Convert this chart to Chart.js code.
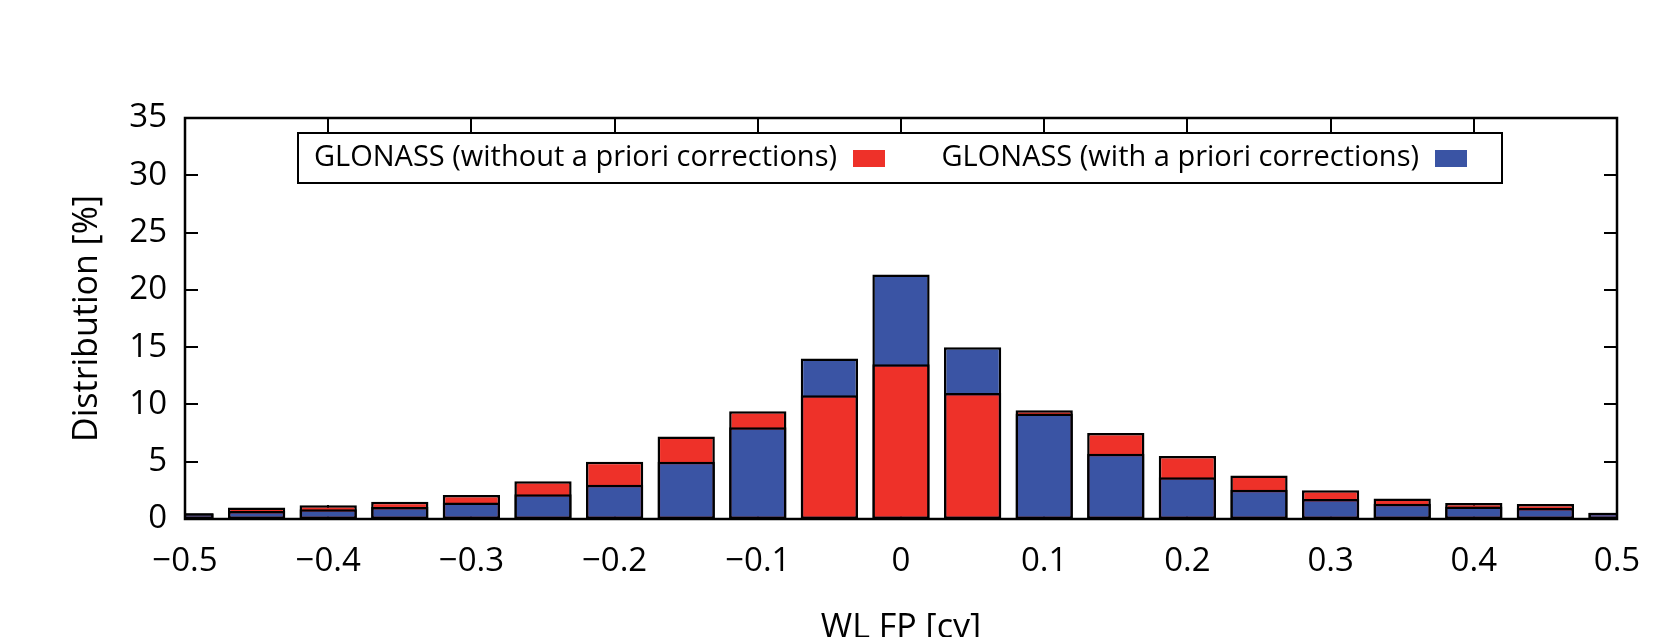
<!DOCTYPE html>
<html>
<head>
<meta charset="utf-8">
<script src="https://cdn.jsdelivr.net/npm/chart.js@4.4.1/dist/chart.umd.min.js"></script>
<style>
  html, body { margin: 0; padding: 0; background: #fff; }
  #wrap { width: 1666px; height: 637px; }
</style>
</head>
<body>
<div id="wrap"><canvas id="chart" width="1666" height="637"></canvas></div>
<script>
// bin centres of the WL fractional part histogram [cy]
const bins = [-0.5, -0.45, -0.4, -0.35, -0.3, -0.25, -0.2, -0.15, -0.1, -0.05, 0,
              0.05, 0.1, 0.15, 0.2, 0.25, 0.3, 0.35, 0.4, 0.45, 0.5];
// distribution [%]
const withoutCorr = [0.5, 1.0, 1.2, 1.5, 2.1, 3.3, 5.0, 7.2, 9.4, 10.8, 13.5,
                     11.0, 9.5, 7.5, 5.5, 3.8, 2.5, 1.8, 1.4, 1.3, 0.55];
const withCorr    = [0.5, 0.7, 0.85, 1.05, 1.45, 2.15, 3.0, 5.0, 8.0, 14.0, 21.35,
                     15.0, 9.2, 5.7, 3.65, 2.55, 1.75, 1.33, 1.1, 0.95, 0.55];
const seriesNames = ['GLONASS (without a priori corrections)', 'GLONASS (with a priori corrections)'];
const seriesColors = ['#ee3129', '#3a54a4'];
const xTickLabels = ['\u22120.5', '\u22120.4', '\u22120.3', '\u22120.2', '\u22120.1', '0',
                     '0.1', '0.2', '0.3', '0.4', '0.5'];
const yTickLabels = ['0', '5', '10', '15', '20', '25', '30', '35'];

const FONT = "'Open Sans', sans-serif";

// the taller bar of each bin sits behind, the shorter one in front
const frontData = [], backData = [], frontColors = [], backColors = [];
bins.forEach((b, i) => {
  const r = withoutCorr[i], bl = withCorr[i];
  if (bl <= r) {
    frontData.push({x: b, y: bl}); frontColors.push(seriesColors[1]);
    backData.push({x: b, y: r}); backColors.push(seriesColors[0]);
  } else {
    frontData.push({x: b, y: r}); frontColors.push(seriesColors[0]);
    backData.push({x: b, y: bl}); backColors.push(seriesColors[1]);
  }
});

const boxAndTicks = {
  id: 'boxAndTicks',
  beforeDatasetsDraw(chart) {
    const {ctx, chartArea: a, scales: {x, y}} = chart;
    ctx.save();
    ctx.strokeStyle = '#000';
    ctx.lineWidth = 2;
    ctx.beginPath();
    x.ticks.forEach(t => {
      const px = Math.round(x.getPixelForValue(t.value));
      ctx.moveTo(px, a.top); ctx.lineTo(px, a.top + 14);
      ctx.moveTo(px, a.bottom); ctx.lineTo(px, a.bottom - 14);
    });
    y.ticks.forEach(t => {
      const py = Math.round(y.getPixelForValue(t.value));
      ctx.moveTo(a.left, py); ctx.lineTo(a.left + 13, py);
      ctx.moveTo(a.right, py); ctx.lineTo(a.right - 13, py);
    });
    ctx.stroke();
    ctx.restore();
  },
  afterDraw(chart) {
    const {ctx, chartArea: a} = chart;
    ctx.save();
    ctx.strokeStyle = '#000';
    ctx.lineWidth = 2.5;
    ctx.strokeRect(a.left, a.top, a.right - a.left, a.bottom - a.top);

    // key box, gnuplot style: text then swatch
    const lx = a.left + 113, ly = a.top + 15, lw = 1204, lh = 50;
    ctx.fillStyle = '#fff';
    ctx.fillRect(lx, ly, lw, lh);
    ctx.lineWidth = 2;
    ctx.strokeRect(lx, ly, lw, lh);
    ctx.font = '29px ' + FONT;
    ctx.textAlign = 'right';
    ctx.textBaseline = 'middle';
    const swatchX = [lx + 555, lx + 1137];
    seriesNames.forEach((name, i) => {
      ctx.fillStyle = '#000';
      ctx.fillText(name, swatchX[i] - 16, ly + lh / 2);
      ctx.fillStyle = seriesColors[i];
      ctx.fillRect(swatchX[i], ly + 17, 32, 17);
    });
    ctx.restore();
  }
};

new Chart(document.getElementById('chart'), {
  type: 'bar',
  data: {
    datasets: [
      { label: 'front', data: frontData, backgroundColor: frontColors, order: 0 },
      { label: 'back', data: backData, backgroundColor: backColors, order: 1 }
    ]
  },
  options: {
    responsive: false,
    animation: false,
    devicePixelRatio: 1,
    layout: { padding: { left: 0, top: 118, right: 49, bottom: 0 } },
    datasets: {
      bar: {
        grouped: false,
        barPercentage: 0.8,
        categoryPercentage: 1.0,
        borderColor: '#000',
        borderWidth: 2.5,
        borderSkipped: false,
        clip: 0
      }
    },
    plugins: {
      legend: { display: false },
      tooltip: { enabled: false }
    },
    scales: {
      x: {
        type: 'linear',
        min: -0.5,
        max: 0.5,
        offset: false,
        grid: { display: false, drawTicks: false },
        border: { display: false },
        ticks: {
          stepSize: 0.1,
          padding: 23,
          color: '#000',
          font: { family: FONT, size: 33 },
          maxRotation: 0,
          callback: (v, i) => xTickLabels[i]
        },
        title: {
          display: true,
          text: 'WL FP [cy]',
          color: '#000',
          font: { family: FONT, size: 34, lineHeight: 1 },
          padding: { top: 0, bottom: -8 }
        },
        afterFit: s => { s.height = 118; }
      },
      y: {
        min: 0,
        max: 35,
        grid: { display: false, drawTicks: false },
        border: { display: false },
        ticks: {
          stepSize: 5,
          padding: 18,
          color: '#000',
          font: { family: FONT, size: 33 },
          callback: (v, i) => yTickLabels[i]
        },
        title: {
          display: true,
          text: 'Distribution [%]',
          color: '#000',
          font: { family: FONT, size: 34, lineHeight: 1 },
          padding: { top: 70, bottom: 0 }
        },
        afterFit: s => { s.width = 185; }
      }
    }
  },
  plugins: [boxAndTicks]
});
</script>
</body>
</html>
